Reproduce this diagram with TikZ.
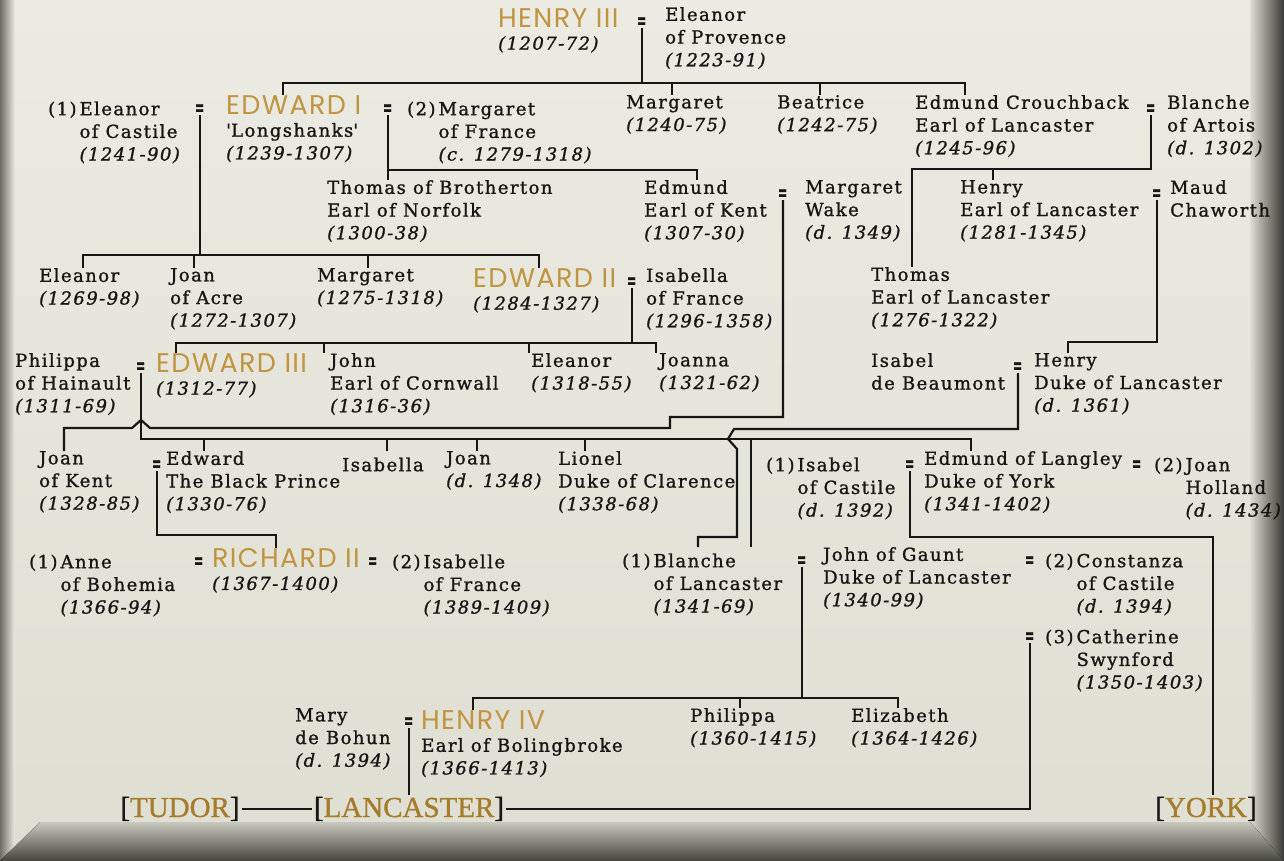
\documentclass[tikz,border=0pt]{standalone}
\usepackage{fontspec}
\usepackage{graphicx}
\setmainfont{DejaVu Serif}[LetterSpace=8, FakeBold=1.2]
\newfontfamily\royalfont{Poppins}[LetterSpace=5]
\newfontfamily\housefont{Liberation Serif}[FakeBold=1]
\usepackage{xcolor}
\usetikzlibrary{positioning}

\definecolor{ink}{HTML}{161614}
\definecolor{royalgold}{HTML}{C09440}
\definecolor{housegold}{HTML}{A47C2C}
\definecolor{bgtop}{HTML}{ECEBE3}
\definecolor{bgbot}{HTML}{DFDED2}
\definecolor{bevleft}{HTML}{6E6E66}
\definecolor{bevright}{HTML}{3A3A36}
\definecolor{bevbottom}{HTML}{45453F}

\newcommand{\dt}[1]{\textit{#1}}
\newcommand{\king}[1]{{\royalfont\fontsize{27}{27}\selectfont\color{royalgold}#1}}
\newcommand{\nr}[2]{(#1)\,\begin{tabular}[t]{@{}l@{}}#2\end{tabular}}
\newcommand{\house}[1]{\textcolor{ink}{[}#1\textcolor{ink}{]}}
\newcommand{\wed}{\scalebox{0.5}[1]{\textbf{=}}}

\begin{document}
\begin{tikzpicture}[
  person/.style={anchor=north west, inner sep=0pt, align=left, yshift=20pt, text=ink,
    font=\fontsize{18}{22.7}\selectfont, execute at begin node={\rule{0pt}{20pt}}},
  eq/.style={anchor=base, inner sep=0pt, text=ink, font=\fontsize{22}{22}\selectfont},
  housebox/.style={anchor=base, inner sep=2pt, text=housegold, font=\housefont\fontsize{29}{29}\selectfont},
  link/.style={draw=ink, line width=2.2pt}]
\begin{scope}[x=1pt,y=-1pt]
  \useasboundingbox (0,0) rectangle (1284,861);
  % frame
  \fill[top color=bgtop, bottom color=bgbot] (0,0) rectangle (1284,861);
  \fill[left color=bevleft, right color=bgtop] (0,0) rectangle (15,861);
  \fill[left color=bgbot, right color=bevright] (1250,0) -- (1284,0) -- (1284,861) -- (1250,822) -- cycle;
  \fill[top color=bgbot!90!black, bottom color=bevbottom] (0,861) -- (40,822) -- (1250,822) -- (1284,861) -- cycle;

  % row 1
  \node[person] (h3) at (498,28) {\king{HENRY III}\\\dt{(1207-72)}};
  \node[eq] (m-h3) at (642,28) {\wed};
  \node[person] (elp) at (665,27) {Eleanor\\of Provence\\\dt{(1223-91)}};

  % row 2
  \node[person] (elc) at (48,115) {\nr{1}{Eleanor\\of Castile\\\dt{(1241-90)}}};
  \node[eq] (m-e1a) at (200,115) {\wed};
  \node[person] (edw1) at (226,115) {\king{EDWARD I}\\\textquotesingle Longshanks\textquotesingle\\\dt{(1239-1307)}};
  \node[eq] (m-e1b) at (388,115) {\wed};
  \node[person] (mgf) at (407,115) {\nr{2}{Margaret\\of France\\\dt{(c. 1279-1318)}}};
  \node[person] (mgt) at (626,115) {Margaret\\\dt{(1240-75)}};
  \node[person] (beat) at (777,115) {Beatrice\\\dt{(1242-75)}};
  \node[person] (edmc) at (915,115) {Edmund Crouchback\\Earl of Lancaster\\\dt{(1245-96)}};
  \node[eq] (m-ec) at (1151,115) {\wed};
  \node[person] (bla) at (1167,115) {Blanche\\of Artois\\\dt{(d. 1302)}};

  % row 3
  \node[person] (thob) at (327,200) {Thomas of Brotherton\\Earl of Norfolk\\\dt{(1300-38)}};
  \node[person] (edk) at (644,200) {Edmund\\Earl of Kent\\\dt{(1307-30)}};
  \node[eq] (m-kent) at (783,200) {\wed};
  \node[person] (mwk) at (805,200) {Margaret\\Wake\\\dt{(d. 1349)}};
  \node[person] (hel) at (960,200) {Henry\\Earl of Lancaster\\\dt{(1281-1345)}};
  \node[eq] (m-hl) at (1157,200) {\wed};
  \node[person] (mch) at (1170,200) {Maud\\Chaworth};

  % row 4
  \node[person] (ele) at (39,288) {Eleanor\\\dt{(1269-98)}};
  \node[person] (joa) at (170,288) {Joan\\of Acre\\\dt{(1272-1307)}};
  \node[person] (mgt2) at (317,288) {Margaret\\\dt{(1275-1318)}};
  \node[person] (edw2) at (473,288) {\king{EDWARD II}\\\dt{(1284-1327)}};
  \node[eq] (m-e2) at (632,288) {\wed};
  \node[person] (isf) at (646,288) {Isabella\\of France\\\dt{(1296-1358)}};
  \node[person] (tho) at (871,287) {Thomas\\Earl of Lancaster\\\dt{(1276-1322)}};

  % row 5
  \node[person] (phi) at (15,373) {Philippa\\of Hainault\\\dt{(1311-69)}};
  \node[eq] (m-e3) at (141,373) {\wed};
  \node[person] (edw3) at (156,373) {\king{EDWARD III}\\\dt{(1312-77)}};
  \node[person] (joc) at (330,373) {John\\Earl of Cornwall\\\dt{(1316-36)}};
  \node[person] (ele2) at (531,373) {Eleanor\\\dt{(1318-55)}};
  \node[person] (jna) at (659,373) {Joanna\\\dt{(1321-62)}};
  \node[person] (isb) at (871,373) {Isabel\\de Beaumont};
  \node[eq] (m-hd) at (1018,373) {\wed};
  \node[person] (hdl) at (1034,373) {Henry\\Duke of Lancaster\\\dt{(d. 1361)}};

  % row 6
  \node[person] (jok) at (39,471) {Joan\\of Kent\\\dt{(1328-85)}};
  \node[eq] (m-bp) at (157,471) {\wed};
  \node[person] (bpr) at (166,471) {Edward\\The Black Prince\\\dt{(1330-76)}};
  \node[person] (isa) at (342,471) {Isabella};
  \node[person] (jon) at (446,471) {Joan\\\dt{(d. 1348)}};
  \node[person] (lio) at (558,471) {Lionel\\Duke of Clarence\\\dt{(1338-68)}};
  \node[person] (isc) at (766,471) {\nr{1}{Isabel\\of Castile\\\dt{(d. 1392)}}};
  \node[eq] (m-ey) at (910,471) {\wed};
  \node[person] (eol) at (924,471) {Edmund of Langley\\Duke of York\\\dt{(1341-1402)}};
  \node[eq] (m-ey2) at (1137,471) {\wed};
  \node[person] (joh) at (1154,471) {\nr{2}{Joan\\Holland\\\dt{(d. 1434)}}};

  % row 7
  \node[person] (ann) at (29,568) {\nr{1}{Anne\\of Bohemia\\\dt{(1366-94)}}};
  \node[eq] (m-r2a) at (199,568) {\wed};
  \node[person] (r2) at (212,568) {\king{RICHARD II}\\\dt{(1367-1400)}};
  \node[eq] (m-r2b) at (373,568) {\wed};
  \node[person] (isf2) at (392,568) {\nr{2}{Isabelle\\of France\\\dt{(1389-1409)}}};
  \node[person] (blc) at (622,567) {\nr{1}{Blanche\\of Lancaster\\\dt{(1341-69)}}};
  \node[eq] (m-jg1) at (802,567) {\wed};
  \node[person] (jog) at (823,567) {John of Gaunt\\Duke of Lancaster\\\dt{(1340-99)}};
  \node[eq] (m-jg2) at (1030,567) {\wed};
  \node[person] (con) at (1045,567) {\nr{2}{Constanza\\of Castile\\\dt{(d. 1394)}}};
  \node[eq] (m-jg3) at (1030,643) {\wed};
  \node[person] (cat) at (1045,643) {\nr{3}{Catherine\\Swynford\\\dt{(1350-1403)}}};

  % row 8
  \node[person] (mab) at (295,728) {Mary\\de Bohun\\\dt{(d. 1394)}};
  \node[eq] (m-h4) at (409,728) {\wed};
  \node[person] (h4) at (421,730) {\king{HENRY IV}\\Earl of Bolingbroke\\\dt{(1366-1413)}};
  \node[person] (phl) at (690,728) {Philippa\\\dt{(1360-1415)}};
  \node[person] (eli) at (851,728) {Elizabeth\\\dt{(1364-1426)}};

  % houses
  \node[housebox] (tudor) at (180,817) {\house{TUDOR}};
  \node[housebox] (lanc) at (409,817) {\house{LANCASTER}};
  \node[housebox] (york) at (1206,817) {\house{YORK}};

  % Henry III = Eleanor of Provence
  \draw[link] (m-h3.south) -- (m-h3.south |- 0,83);
  \draw[link] (edw1.north -| 283,0) -- (283,83) -- (965,83) -- (edmc.north -| 965,0);
  \foreach \n/\x in {mgt/672,beat/820} {\draw[link] (\n.north -| \x,0) -- (\x,83);}

  % Edward I = Eleanor of Castile
  \draw[link] (m-e1a.south) -- (m-e1a.south |- 0,255);
  \draw[link] (ele.north -| 83,0) -- (83,255) -- (539,255) -- (edw2.north -| 539,0);
  \foreach \n/\x in {joa/194,mgt2/368} {\draw[link] (\n.north -| \x,0) -- (\x,255);}

  % Edward I = Margaret of France
  \draw[link] (m-e1b.south) -- (thob.north -| m-e1b.south);
  \draw[link] (m-e1b.south |- 0,170) -- (697,170) -- (edk.north -| 697,0);

  % Edmund Crouchback = Blanche of Artois
  \draw[link] (m-ec.south) -- (m-ec.south |- 0,169) -- (912,169) -- (tho.north -| 912,0);
  \draw[link] (hel.north -| 993,0) -- (993,169);

  % Edmund of Kent = Margaret Wake
  \draw[link] (m-kent.south) |- (670,417) -- (670,428) -- (150,428) -- (141,420) -- (132,428)
    -- (64,428) -- (jok.north -| 64,0);

  % Henry of Lancaster = Maud Chaworth
  \draw[link] (m-hl.south) |- (1068,342) -- (hdl.north -| 1068,0);

  % Edward II = Isabella of France
  \draw[link] (m-e2.south) -- (m-e2.south |- 0,343);
  \draw[link] (edw3.north -| 176,0) -- (176,343) -- (656,343) -- (jna.north -| 656,0);
  \foreach \n/\x in {joc/324,ele2/529} {\draw[link] (\n.north -| \x,0) -- (\x,343);}

  % Edward III = Philippa
  \draw[link] (m-e3.south) -- (141,439) -- (971,439) -- (eol.north -| 971,0);
  \foreach \n/\x in {bpr/204,isa/387,jon/477,lio/585,jog/751} {\draw[link] (\n.north -| \x,0) -- (\x,439);}

  % Henry of Lancaster = Isabel de Beaumont
  \draw[link] (m-hd.south) |- (734,429) -- (728,439) -- (737,449) |- (698,537) -- (blc.north -| 698,0);

  % Black Prince = Joan of Kent
  \draw[link] (m-bp.south) |- (276,535) -- (r2.north -| 276,0);

  % Edmund of Langley = Isabel of Castile
  \draw[link] (m-ey.south) |- (1213,537) -- (york.north -| 1213,0);

  % John of Gaunt = Blanche of Lancaster
  \draw[link] (m-jg1.south) -- (m-jg1.south |- 0,698);
  \draw[link] (h4.north -| 473,0) -- (473,698) -- (898,698) -- (eli.north -| 898,0);
  \draw[link] (phl.north -| 740,0) -- (740,698);

  % lines to the houses
  \draw[link] (m-jg3.south) |- (lanc.east);
  \draw[link] (m-h4.south) -- (lanc.north -| m-h4.south);
  \draw[link] (tudor.east) -- (lanc.west);
\end{scope}
\end{tikzpicture}
\end{document}
